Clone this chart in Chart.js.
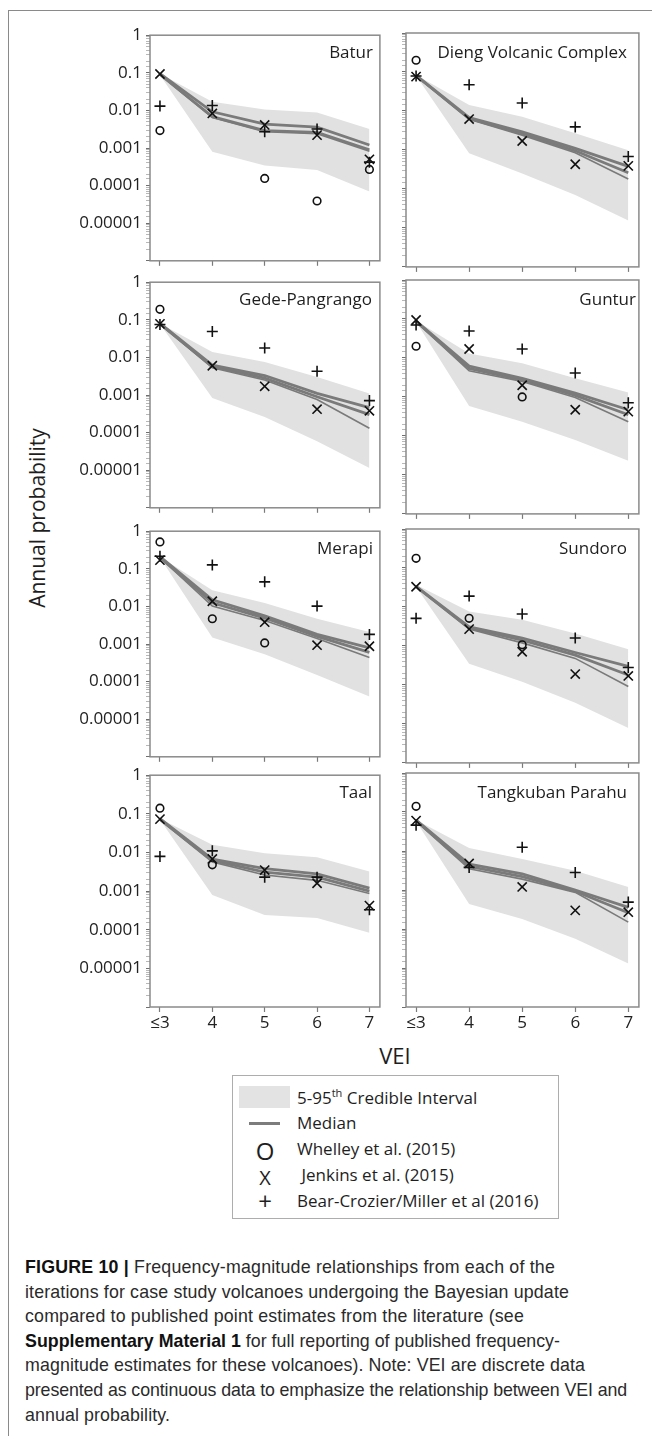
<!DOCTYPE html>
<html>
<head>
<meta charset="utf-8">
<script src="https://cdn.jsdelivr.net/npm/chart.js@4.4.1/dist/chart.umd.min.js"></script>
<style>
  body { margin: 0; background: #fff; }
  #page { position: relative; width: 652px; height: 1436px; overflow: hidden; font-family: 'Open Sans', sans-serif; color: #1e1e1e; }
  #frame { position: absolute; left: 8px; top: 10px; width: 700px; height: 1500px; border-left: 1.5px solid #8a8a8a; border-top: 1.5px solid #8a8a8a; }
  canvas { position: absolute; }
  .ptitle { position: absolute; font-size: 17px; line-height: 24px; white-space: nowrap; text-align: right; }
  #ytitle { position: absolute; left: -83px; top: 504px; width: 240px; text-align: center; font-size: 21px; line-height: 28px; transform: rotate(-90deg); }
  #xtitle { position: absolute; left: 345px; top: 1040px; width: 100px; text-align: center; font-size: 22px; line-height: 30px; }
  #legend { position: absolute; left: 232px; top: 1075px; width: 325px; height: 142px; border: 1.5px solid #adadad; }
  #legend div { position: absolute; white-space: nowrap; }
  .ltext { left: 64px; font-size: 17px; line-height: 24px; }
  .lglyph { left: 20px; width: 24px; text-align: center; line-height: 24px; }
  .cline { position: absolute; left: 25px; font-family: 'Liberation Sans', Arial, sans-serif; font-size: 17.8px; line-height: 24px; color: #2a2a2a; white-space: nowrap; }
  .cline b { color: #111; }
</style>
</head>
<body>
<div id="page">
  <div id="frame"></div>
  <div id="ytitle">Annual probability</div>
  <div id="xtitle">VEI</div>
  <div id="legend">
    <div style="left:6px; top:10px; width:51px; height:22px; background:#e3e3e3;"></div>
    <div class="ltext" style="top:10px;">5-95<sup style="font-size:11px; line-height:0;">th</sup> Credible Interval</div>
    <div style="left:16px; top:46px; width:31px; height:2.5px; background:#7c7c7c;"></div>
    <div class="ltext" style="top:35px;">Median</div>
    <div class="lglyph" style="top:63px; font-size:24px;">O</div>
    <div class="ltext" style="top:61px;">Whelley et al. (2015)</div>
    <div class="lglyph" style="top:90px; font-size:20px;">X</div>
    <div class="ltext" style="top:87px;">&nbsp;Jenkins et al. (2015)</div>
    <div class="lglyph" style="top:113px; font-size:24px;">+</div>
    <div class="ltext" style="top:113px;">Bear-Crozier/Miller et al (2016)</div>
  </div>
  <div class="cline" style="top:1255px;"><b>FIGURE 10 |</b> Frequency-magnitude relationships from each of the</div>
  <div class="cline" style="top:1279.6px;">iterations for case study volcanoes undergoing the Bayesian update</div>
  <div class="cline" style="top:1304.2px;">compared to published point estimates from the literature (see</div>
  <div class="cline" style="top:1328.8px;"><b>Supplementary Material 1</b> for full reporting of published frequency-</div>
  <div class="cline" style="top:1353.4px;">magnitude estimates for these volcanoes). Note: VEI are discrete data</div>
  <div class="cline" style="top:1378px;">presented as continuous data to emphasize the relationship between VEI and</div>
  <div class="cline" style="top:1402.6px;">annual probability.</div>
</div>
<script>
const vei = [3, 4, 5, 6, 7];
const veiLabels = ['≤3', '4', '5', '6', '7'];
const yTickLabels = ['1', '0.1', '0.01', '0.001', '0.0001', '0.00001'];

// Batur
const baturUpper = [0.095, 0.017, 0.0106, 0.0088, 0.0032];
const baturLower = [0.088, 0.0008, 0.00034, 0.00026, 0.00007];
const baturMedA = [0.095, 0.0092, 0.0043, 0.0036, 0.0012];
const baturMedB = [0.09, 0.0068, 0.0029, 0.0026, 0.0009];
const baturMedC = [0.09, 0.0065, 0.0027, 0.0024, 0.00082];
const baturWhelley = [0.0029, null, 0.000155, 0.000039, 0.00027];
const baturJenkins = [0.093, 0.0083, 0.0041, 0.0022, 0.0005];
const baturBear = [0.013, 0.0135, 0.0027, 0.0032, 0.00042];

// Dieng Volcanic Complex
const diengUpper = [0.084, 0.0142, 0.0071, 0.0027, 0.00098];
const diengLower = [0.08, 0.00082, 0.00025, 0.00007, 0.0000155];
const diengMedA = [0.082, 0.0068, 0.0029, 0.0011, 0.00038];
const diengMedB = [0.08, 0.0064, 0.0026, 0.00095, 0.00026];
const diengMedC = [0.079, 0.0061, 0.0024, 0.00085, 0.00018];
const diengWhelley = [0.2, null, null, null, null];
const diengJenkins = [0.076, 0.0062, 0.0017, 0.00043, 0.00039];
const diengBear = [0.079, 0.047, 0.016, 0.0039, 0.00068];

// Gede-Pangrango
const gedeUpper = [0.08, 0.014, 0.0076, 0.003, 0.0011];
const gedeLower = [0.077, 0.00083, 0.00026, 0.000059, 0.0000115];
const gedeMedA = [0.08, 0.0062, 0.0033, 0.0011, 0.00046];
const gedeMedB = [0.078, 0.0057, 0.0028, 0.0009, 0.0003];
const gedeMedC = [0.077, 0.0053, 0.0025, 0.00076, 0.00013];
const gedeWhelley = [0.19, null, null, null, null];
const gedeJenkins = [0.078, 0.006, 0.0017, 0.00042, 0.00038];
const gedeBear = [0.075, 0.049, 0.0178, 0.0043, 0.00071];

// Guntur
const gunturUpper = [0.09, 0.013, 0.0073, 0.003, 0.0013];
const gunturLower = [0.085, 0.00059, 0.00023, 0.000079, 0.000023];
const gunturMedA = [0.088, 0.0062, 0.003, 0.00125, 0.00047];
const gunturMedB = [0.086, 0.0054, 0.0027, 0.0011, 0.00035];
const gunturMedC = [0.085, 0.0047, 0.0025, 0.00097, 0.00023];
const gunturWhelley = [0.02, null, 0.001, null, null];
const gunturJenkins = [0.094, 0.017, 0.002, 0.00047, 0.00042];
const gunturBear = [0.07, 0.049, 0.017, 0.0041, 0.00071];

// Merapi
const merapiUpper = [0.21, 0.027, 0.0124, 0.0047, 0.0021];
const merapiLower = [0.2, 0.0015, 0.00053, 0.00015, 0.00004];
const merapiMedA = [0.21, 0.015, 0.0056, 0.0018, 0.00079];
const merapiMedB = [0.2, 0.0125, 0.0049, 0.0016, 0.0006];
const merapiMedC = [0.2, 0.0102, 0.0042, 0.0014, 0.00044];
const merapiWhelley = [0.52, 0.0047, 0.00107, null, null];
const merapiJenkins = [0.17, 0.0137, 0.0038, 0.00093, 0.00087];
const merapiBear = [0.215, 0.127, 0.045, 0.0102, 0.0018];

// Sundoro
const sundoroUpper = [0.037, 0.0076, 0.0047, 0.0021, 0.00082];
const sundoroLower = [0.033, 0.00035, 0.00012, 0.000035, 0.0000078];
const sundoroMedA = [0.034, 0.0031, 0.0016, 0.00068, 0.0003];
const sundoroMedB = [0.033, 0.0029, 0.0014, 0.00058, 0.00018];
const sundoroMedC = [0.033, 0.0027, 0.0012, 0.00048, 0.000091];
const sundoroWhelley = [0.177, 0.0051, 0.00107, null, null];
const sundoroJenkins = [0.033, 0.0027, 0.00071, 0.00019, 0.00017];
const sundoroBear = [0.0051, 0.019, 0.0066, 0.0016, 0.00028];

// Taal
const taalUpper = [0.075, 0.0158, 0.0095, 0.0075, 0.0032];
const taalLower = [0.07, 0.00079, 0.00024, 0.0002, 0.000083];
const taalMedA = [0.075, 0.0067, 0.0038, 0.0028, 0.0012];
const taalMedB = [0.072, 0.0062, 0.0031, 0.0023, 0.001];
const taalMedC = [0.07, 0.0057, 0.0026, 0.0019, 0.00087];
const taalWhelley = [0.14, 0.0048, null, null, null];
const taalJenkins = [0.073, 0.0068, 0.0035, 0.0016, 0.00042];
const taalBear = [0.0079, 0.011, 0.0023, 0.0023, 0.00033];

// Tangkuban Parahu
const tangkubanUpper = [0.062, 0.012, 0.0062, 0.0031, 0.0012];
const tangkubanLower = [0.058, 0.00044, 0.00018, 0.000056, 0.000013];
const tangkubanMedA = [0.062, 0.0046, 0.0026, 0.001, 0.00036];
const tangkubanMedB = [0.06, 0.004, 0.0022, 0.00093, 0.00026];
const tangkubanMedC = [0.058, 0.0035, 0.0019, 0.00087, 0.00015];
const tangkubanWhelley = [0.14, null, null, null, null];
const tangkubanJenkins = [0.06, 0.0048, 0.0012, 0.0003, 0.00027];
const tangkubanBear = [0.046, 0.0038, 0.0125, 0.0028, 0.00049];

const panels = [
    { name: 'Batur', inset: 13, upper: baturUpper, lower: baturLower, meds: [baturMedA, baturMedB, baturMedC], whelley: baturWhelley, jenkins: baturJenkins, bear: baturBear },
    { name: 'Dieng Volcanic Complex', inset: 18, upper: diengUpper, lower: diengLower, meds: [diengMedA, diengMedB, diengMedC], whelley: diengWhelley, jenkins: diengJenkins, bear: diengBear },
    { name: 'Gede-Pangrango', inset: 14, upper: gedeUpper, lower: gedeLower, meds: [gedeMedA, gedeMedB, gedeMedC], whelley: gedeWhelley, jenkins: gedeJenkins, bear: gedeBear },
    { name: 'Guntur', inset: 9, upper: gunturUpper, lower: gunturLower, meds: [gunturMedA, gunturMedB, gunturMedC], whelley: gunturWhelley, jenkins: gunturJenkins, bear: gunturBear },
    { name: 'Merapi', inset: 13, upper: merapiUpper, lower: merapiLower, meds: [merapiMedA, merapiMedB, merapiMedC], whelley: merapiWhelley, jenkins: merapiJenkins, bear: merapiBear },
    { name: 'Sundoro', inset: 18, upper: sundoroUpper, lower: sundoroLower, meds: [sundoroMedA, sundoroMedB, sundoroMedC], whelley: sundoroWhelley, jenkins: sundoroJenkins, bear: sundoroBear },
    { name: 'Taal', inset: 14, upper: taalUpper, lower: taalLower, meds: [taalMedA, taalMedB, taalMedC], whelley: taalWhelley, jenkins: taalJenkins, bear: taalBear },
    { name: 'Tangkuban Parahu', inset: 18, upper: tangkubanUpper, lower: tangkubanLower, meds: [tangkubanMedA, tangkubanMedB, tangkubanMedC], whelley: tangkubanWhelley, jenkins: tangkubanJenkins, bear: tangkubanBear }
];

const rowTops = [33, 280, 529, 773];
const plotH = 234;

// right end of each caption line in the figure, text is spaced out to reach it
const captionEnds = [555, 569, 524, 560, 585, 627, 170];
document.querySelectorAll('.cline').forEach(function (el, i) {
    const natural = el.getBoundingClientRect().width;
    const n = el.textContent.length;
    el.style.letterSpacing = ((captionEnds[i] - 25 - natural) / n).toFixed(3) + 'px';
});

function pts(values) {
    return vei.map((v, i) => ({ x: v, y: values[i] }));
}

function decade(value) {
    const e = Math.log10(value);
    return Math.abs(e - Math.round(e)) < 1e-6 ? -Math.round(e) : -1;
}

// grey box round each plot area
const plotFrame = {
    id: 'plotFrame',
    afterDraw(chart) {
        const { ctx, chartArea: a } = chart;
        ctx.save();
        ctx.strokeStyle = '#8a8a8a';
        ctx.lineWidth = 1.5;
        ctx.strokeRect(a.left, a.top, a.right - a.left, a.bottom - a.top);
        ctx.restore();
    }
};

Chart.defaults.font.family = "'Open Sans', sans-serif";

const page = document.getElementById('page');

panels.forEach(function (p, k) {
    const col = k % 2;
    const row = Math.floor(k / 2);
    const bottomRow = row === 3;
    const xAxisH = bottomRow ? 30 : 8;
    const left = col === 0 ? 60 : 396;
    const w = col === 0 ? 328 : 251;

    const canvas = document.createElement('canvas');
    canvas.width = w;
    canvas.height = 12 + plotH + xAxisH;
    canvas.style.left = left + 'px';
    canvas.style.top = (rowTops[row] - 12) + 'px';
    page.appendChild(canvas);

    const title = document.createElement('div');
    title.className = 'ptitle';
    title.textContent = p.name;
    title.style.right = (652 - (left + w - 2) + p.inset) + 'px';
    title.style.top = (rowTops[row] + 7) + 'px';
    page.appendChild(title);

    const markers = { pointBorderColor: '#111', pointBackgroundColor: 'rgba(0,0,0,0)', pointBorderWidth: 1.6, showLine: false, order: 0 };
    const datasets = [
        Object.assign({ data: pts(p.whelley), pointStyle: 'circle', pointRadius: 3.8 }, markers),
        Object.assign({ data: pts(p.jenkins), pointStyle: 'crossRot', pointRadius: 6.5 }, markers),
        Object.assign({ data: pts(p.bear), pointStyle: 'cross', pointRadius: 5.5 }, markers)
    ];
    p.meds.forEach(function (m, i) {
        datasets.push({
            data: pts(m),
            borderColor: '#7a7a7a',
            borderWidth: i === 2 ? 1.6 : 2.8,
            pointRadius: 0,
            fill: false,
            order: 1
        });
    });
    datasets.push({ data: pts(p.upper), fill: '+1', backgroundColor: '#e1e1e1', borderWidth: 0, pointRadius: 0, order: 3 });
    datasets.push({ data: pts(p.lower), fill: false, borderWidth: 0, pointRadius: 0, order: 3 });

    new Chart(canvas, {
        type: 'line',
        data: { datasets: datasets },
        plugins: [plotFrame],
        options: {
            responsive: false,
            animation: false,
            events: [],
            layout: { padding: { top: 12, right: 2, left: 0, bottom: 0 } },
            plugins: { legend: { display: false }, tooltip: { enabled: false } },
            scales: {
                x: {
                    type: 'linear',
                    min: 2.81,
                    max: 7.2,
                    afterBuildTicks: function (axis) { axis.ticks = vei.map(v => ({ value: v })); },
                    afterFit: function (axis) { axis.height = xAxisH; },
                    grid: { drawOnChartArea: false, drawTicks: true, tickLength: 5, tickColor: '#7a7a7a', tickWidth: 1.2 },
                    border: { display: false },
                    ticks: {
                        display: bottomRow,
                        padding: 1,
                        color: '#222',
                        font: { size: 17 },
                        maxRotation: 0,
                        autoSkip: false,
                        callback: function (value) { return veiLabels[vei.indexOf(value)]; }
                    }
                },
                y: {
                    type: 'logarithmic',
                    min: 1e-6,
                    max: 1,
                    afterFit: function (axis) { axis.width = col === 0 ? 90 : 10; },
                    grid: {
                        drawOnChartArea: false,
                        drawTicks: true,
                        tickLength: 4,
                        tickColor: function (c) {
                            return c.tick && decade(c.tick.value) >= 0 ? '#6f6f6f' : '#b8b8b8';
                        }
                    },
                    border: { display: false },
                    ticks: {
                        display: col === 0,
                        autoSkip: false,
                        padding: 4,
                        color: '#222',
                        font: { size: 17 },
                        callback: function (value) {
                            const d = decade(value);
                            return d >= 0 && d < yTickLabels.length ? yTickLabels[d] : '';
                        }
                    }
                }
            }
        }
    });
});
</script>
</body>
</html>
